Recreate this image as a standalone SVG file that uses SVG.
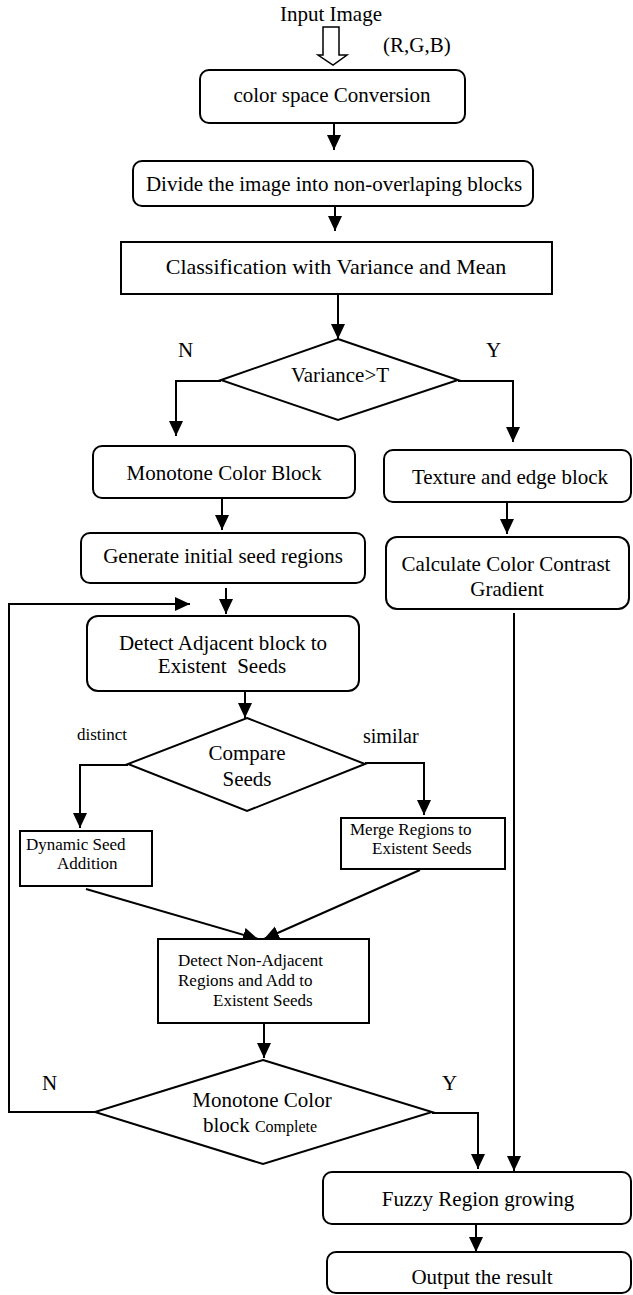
<svg xmlns="http://www.w3.org/2000/svg" width="633" height="1295" viewBox="0 0 633 1295">
<defs>
<marker id="ah" markerUnits="userSpaceOnUse" markerWidth="16" markerHeight="16" refX="15" refY="7" orient="auto">
<path d="M0,0 L15,7 L0,14 z" fill="#000"/>
</marker>
<style>
.box{fill:#fff;stroke:#000;stroke-width:2}
.ln{fill:none;stroke:#000;stroke-width:2}
.ar{fill:none;stroke:#000;stroke-width:2;marker-end:url(#ah)}
text{font-family:"Liberation Serif","Times New Roman",serif;fill:#000}
.t{font-size:21px;text-anchor:middle}
.s{font-size:17px}
.l{font-size:21px}
</style>
</defs>
<rect width="633" height="1295" fill="#fff"/>
<g id="connectors">
<polygon points="323,27 339,27 339,55 347,55 333,65 318,55 323,55" fill="#fff" stroke="#000" stroke-width="1.5"/>
<line class="ar" x1="334" y1="123" x2="334" y2="150"/>
<line class="ar" x1="335" y1="206" x2="335" y2="231"/>
<line class="ar" x1="338" y1="294" x2="338" y2="339"/>
<polyline class="ar" points="221,381 176,381 176,436"/>
<polyline class="ar" points="458,381 513,381 513,442"/>
<line class="ar" x1="222" y1="498" x2="222" y2="530"/>
<line class="ar" x1="507" y1="502" x2="507" y2="534"/>
<line class="ar" x1="226" y1="588" x2="226" y2="614"/>
<polyline class="ar" points="95,1112 9,1112 9,604 190,604"/>
<line class="ar" x1="245" y1="691" x2="245" y2="718"/>
<polyline class="ar" points="128,765 80,765 80,828"/>
<polyline class="ar" points="365,763 424,763 424,815"/>
<line class="ar" x1="86" y1="889" x2="258" y2="939"/>
<line class="ar" x1="420" y1="870" x2="264" y2="939"/>
<line class="ar" x1="264" y1="1023" x2="264" y2="1058"/>
<polyline class="ar" points="432,1113 478,1113 478,1169"/>
<line class="ar" x1="514" y1="613" x2="514" y2="1171"/>
<line class="ar" x1="476" y1="1224" x2="476" y2="1252"/>
</g>
<g id="input">
<text class="t" x="331" y="21">Input Image</text>
<text class="l" x="383" y="52">(R,G,B)</text>
</g>
<g id="colorspace">
<rect class="box" x="200" y="70" width="265" height="53" rx="9"/>
<text class="t" x="332" y="102">color space Conversion</text>
</g>
<g id="divide">
<rect class="box" x="133" y="161" width="400" height="45" rx="9"/>
<text class="t" x="334" y="191">Divide the image into non-overlaping blocks</text>
</g>
<g id="classification">
<rect class="box" x="121" y="242" width="431" height="52"/>
<text class="t" x="336" y="274" style="font-size:22px">Classification with Variance and Mean</text>
</g>
<g id="variance">
<polygon class="box" points="338,339 458,380 338,420 221,380"/>
<text class="t" x="340" y="382">Variance&gt;T</text>
<text class="l" x="178" y="357">N</text>
<text class="l" x="486" y="357">Y</text>
</g>
<g id="monotone">
<rect class="box" x="93" y="446" width="262" height="52" rx="9"/>
<text class="t" x="224" y="480">Monotone Color Block</text>
</g>
<g id="texture">
<rect class="box" x="384" y="450" width="247" height="52" rx="9"/>
<text class="t" x="510" y="484">Texture and edge block</text>
</g>
<g id="generate">
<rect class="box" x="81" y="533" width="284" height="50" rx="9"/>
<text class="t" x="223" y="563">Generate initial seed regions</text>
</g>
<g id="calculate">
<rect class="box" x="386" y="537" width="243" height="72" rx="11"/>
<text class="t" x="506" y="571">Calculate Color Contrast</text>
<text class="t" x="507" y="596">Gradient</text>
</g>
<g id="detectadj">
<rect class="box" x="87" y="616" width="272" height="75" rx="11"/>
<text class="t" x="223" y="650">Detect Adjacent block to</text>
<text class="t" x="222" y="673">Existent&#160; Seeds</text>
</g>
<g id="compare">
<polygon class="box" points="247,718 365,764 247,811 128,764"/>
<text class="t" x="247" y="760">Compare</text>
<text class="t" x="247" y="786">Seeds</text>
<text class="s" x="77" y="740">distinct</text>
<text class="l" x="363" y="743" style="font-size:20px">similar</text>
</g>
<g id="dynamic">
<rect class="box" x="20" y="831" width="132" height="55"/>
<text class="s" x="26" y="850">Dynamic Seed</text>
<text class="s" x="57" y="869">Addition</text>
</g>
<g id="merge">
<rect class="box" x="341" y="818" width="164" height="51"/>
<text class="s" x="350" y="835">Merge Regions to</text>
<text class="s" x="372" y="854">Existent Seeds</text>
</g>
<g id="detectnonadj">
<rect class="box" x="158" y="939" width="211" height="84"/>
<text class="s" x="178" y="966">Detect Non-Adjacent</text>
<text class="s" x="178" y="986">Regions and Add to</text>
<text class="s" x="213" y="1006">Existent Seeds</text>
</g>
<g id="complete">
<polygon class="box" points="263,1060 432,1112 263,1164 95,1112"/>
<text class="t" x="262" y="1107">Monotone Color</text>
<text class="l" x="203" y="1132">block <tspan style="font-size:16px">Complete</tspan></text>
<text class="l" x="42" y="1090">N</text>
<text class="l" x="442" y="1090">Y</text>
</g>
<g id="fuzzy">
<rect class="box" x="323" y="1172" width="308" height="52" rx="9"/>
<text class="t" x="478" y="1206">Fuzzy Region growing</text>
</g>
<g id="output">
<rect class="box" x="327" y="1252" width="304" height="41" rx="9"/>
<text class="t" x="482" y="1284">Output the result</text>
</g>
</svg>
